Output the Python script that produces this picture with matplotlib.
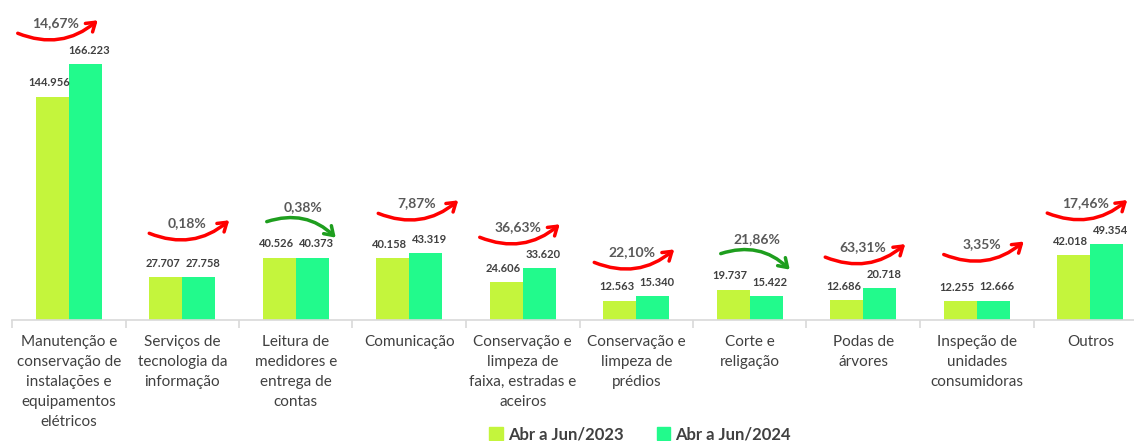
import matplotlib
matplotlib.use('Agg')
import matplotlib.pyplot as plt
import matplotlib.transforms as mtransforms
from matplotlib.patches import Patch
import numpy as np

plt.rcParams['font.family'] = ['Lato', 'DejaVu Sans']

categories = [
    'Manutenção e\nconservação de\ninstalações e\nequipamentos\nelétricos',
    'Serviços de\ntecnologia da\ninformação',
    'Leitura de\nmedidores e\nentrega de\ncontas',
    'Comunicação',
    'Conservação e\nlimpeza de\nfaixa, estradas e\naceiros',
    'Conservação e\nlimpeza de\nprédios',
    'Corte e\nreligação',
    'Podas de\nárvores',
    'Inspeção de\nunidades\nconsumidoras',
    'Outros',
]
v2023 = [144956, 27707, 40526, 40158, 24606, 12563, 19737, 12686, 12255, 42018]
v2024 = [166223, 27758, 40373, 43319, 33620, 15340, 15422, 20718, 12666, 49354]
series_names = ['Abr a Jun/2023', 'Abr a Jun/2024']

# layout: where the % text sits, in pixels from (category centre, top of taller bar)
pct_text_offset = [(-13, 41), (5, 54), (7, 51), (7, 50), (-5, 41),
                   (-4, 44), (7, 51), (0, 41), (5, 56), (-5, 41)]

c23 = '#c4f53c'
c24 = '#22fa8c'
txt = '#404040'

W, H = 1134, 441
fig = plt.figure(figsize=(W / 100, H / 100), dpi=100)
ax = fig.add_axes([12 / W, 121 / H, 1135 / W, 320 / H])

x = np.arange(len(categories))
bw = 0.29
ax.bar(x - bw / 2, v2023, bw, color=c23, label=series_names[0])
ax.bar(x + bw / 2, v2024, bw, color=c24, label=series_names[1])

ax.set_xlim(-0.5, 9.5)
ax.set_ylim(0, 208000)


def fmt(v):
    return f'{v:,}'.replace(',', '.')


for i in range(len(categories)):
    for xx, v, nudge in ((x[i] - bw / 2, v2023[i], -3), (x[i] + bw / 2, v2024[i], 4)):
        ax.annotate(fmt(v), (xx, v), xytext=(nudge, 14), textcoords='offset pixels',
                    ha='center', va='center', fontsize=8, fontweight='bold', color=txt)


def px(dx, dy):
    return ax.transData + mtransforms.Affine2D().translate(dx, dy)


for i in range(len(categories)):
    top = max(v2023[i], v2024[i])
    change = v2024[i] / v2023[i] - 1
    label = f'{abs(change) * 100:.2f}'.replace('.', ',') + '%'
    tx, ty = pct_text_offset[i]
    ax.text(x[i], top, label, transform=px(tx, ty), ha='center', va='center',
            fontsize=10, fontweight='bold', color='#595959')
    if change >= 0:
        start = (tx - 38, ty - 10)
        tip = (tx + 42, ty + 3)
        col, rad = '#ff0000', 0.3
    else:
        start = (tx - 36, ty - 15)
        tip = (tx + 33, ty - 31)
        col, rad = '#1e9e1e', -0.3
    ax.annotate('', xy=(x[i], top), xycoords=px(*tip),
                xytext=(start[0] - tip[0], start[1] - tip[1]), textcoords='offset pixels',
                arrowprops=dict(arrowstyle='->,head_length=0.6,head_width=0.4',
                                color=col, lw=2.5, shrinkA=0, shrinkB=0,
                                connectionstyle=f'arc3,rad={rad}'))

for s in ['top', 'right', 'left']:
    ax.spines[s].set_visible(False)
ax.spines['bottom'].set_color('#d9d9d9')
ax.spines['bottom'].set_linewidth(1.2)
ax.set_yticks([])
ax.set_xticks(x)
ax.set_xticklabels(categories, fontsize=11, color=txt, linespacing=1.55)
ax.set_xticks(np.arange(-0.5, 10, 1), minor=True)
ax.tick_params(axis='x', which='major', length=0, pad=11)
ax.tick_params(axis='x', which='minor', length=6, color='#d9d9d9', width=1.2)

handles = [Patch(color=c23), Patch(color=c24)]
fig.legend(handles, series_names, loc='center', bbox_to_anchor=(640 / W, 1 - 434 / H),
           ncol=2, frameon=False, handlelength=0.8, handleheight=0.8,
           handletextpad=0.3, columnspacing=2.0, labelcolor=txt,
           prop={'weight': 'bold', 'size': 12})

fig.savefig('out.png', dpi=100)
